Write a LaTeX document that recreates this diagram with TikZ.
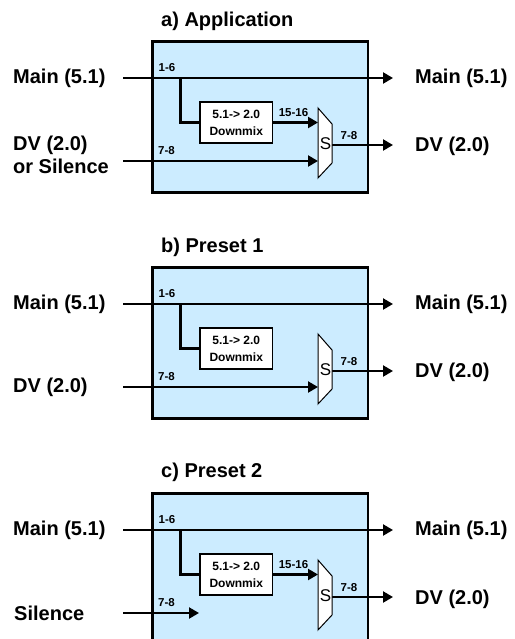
\documentclass[tikz,border=0pt]{standalone}
\usepackage{fontspec}
\setmainfont{Liberation Sans}
\usetikzlibrary{arrows.meta}
\definecolor{panelblue}{RGB}{204,236,255}
\begin{document}
\begin{tikzpicture}[x=1pt,y=-1pt,
  sig/.style={line width=2.2pt},
  sigarrow/.style={line width=2.2pt,-{Triangle[length=10pt,width=11pt]}},
  panel/.style={draw,line width=2.6pt,fill=panelblue,anchor=north west,inner sep=0pt,minimum width=215.5pt,minimum height=151pt},
  bigtxt/.style={font=\fontsize{20}{23}\selectfont\bfseries,inner sep=0pt,anchor=west},
  chtxt/.style={font=\fontsize{11.5}{13}\selectfont\bfseries,inner sep=0pt},
  dmx/.style={draw,line width=1.3pt,fill=white,align=center,font=\fontsize{12}{17}\selectfont\bfseries,minimum width=72.5pt,minimum height=41pt,inner sep=0pt},
  muxstyle/.style={draw,line width=1pt,fill=white},
  stxt/.style={font=\fontsize{17}{20}\selectfont,inner sep=0pt}]
\clip (0,0) rectangle (514,639);
\fill[white] (0,0) rectangle (514,639);

% ---------------- a) Application ----------------
\node[panel] (boxA) at (151,40) {};
\node[bigtxt] (titleA) at (161,21) {a) Application};
\node[bigtxt] (mainInA) at (13,78) {Main (5.1)};
\node[bigtxt] (mainOutA) at (415,78) {Main (5.1)};
\node[bigtxt,align=left] (dvInA) at (13,154.5) {DV (2.0)\\or Silence};
\node[bigtxt] (dvOutA) at (415,146) {DV (2.0)};
\coordinate (mainStartA) at (123,78);
\coordinate (mainEndA) at (393,78);
\coordinate (splitA) at (180.5,78);
\coordinate (dvStartA) at (123,161);
\coordinate (muxAin1) at (318,122.5);
\coordinate (muxAin2) at (318,161);
\coordinate (muxAout) at (332,145);
\coordinate (dvEndA) at (393,145);
\node[dmx] (dmxA) at (236.25,122.5) {5.1-> 2.0\\Downmix};
\draw[sigarrow] (mainStartA) -- (mainEndA);
\draw[sig] (splitA) |- (dmxA.west);
\draw[sigarrow] (dmxA.east) -- (muxAin1);
\draw[sigarrow] (dvStartA) -- (muxAin2);
\draw[sigarrow] (muxAout) -- (dvEndA);
\draw[muxstyle] (318,108) -- (332,124) -- (332,163) -- (318,178) -- cycle;
\node[stxt] (sA) at (325.5,144) {S};
\node[chtxt] (l16A) at (167,68) {1-6};
\node[chtxt] (l78inA) at (166.5,151) {7-8};
\node[chtxt] (l1516A) at (293.5,113) {15-16};
\node[chtxt] (l78outA) at (349,136) {7-8};

% ---------------- b) Preset 1 ----------------
\begin{scope}[yshift=-226pt]
\node[panel] (boxB) at (151,40) {};
\node[bigtxt] (titleB) at (161,21) {b) Preset 1};
\node[bigtxt] (mainInB) at (13,78) {Main (5.1)};
\node[bigtxt] (mainOutB) at (415,78) {Main (5.1)};
\node[bigtxt] (dvInB) at (13,161) {DV (2.0)};
\node[bigtxt] (dvOutB) at (415,146) {DV (2.0)};
\coordinate (mainStartB) at (123,78);
\coordinate (mainEndB) at (393,78);
\coordinate (splitB) at (180.5,78);
\coordinate (dvStartB) at (123,161);
\coordinate (muxBin2) at (318,161);
\coordinate (muxBout) at (332,145);
\coordinate (dvEndB) at (393,145);
\node[dmx] (dmxB) at (236.25,122.5) {5.1-> 2.0\\Downmix};
\draw[sigarrow] (mainStartB) -- (mainEndB);
\draw[sig] (splitB) |- (dmxB.west);
\draw[sigarrow] (dvStartB) -- (muxBin2);
\draw[sigarrow] (muxBout) -- (dvEndB);
\draw[muxstyle] (318,108) -- (332,124) -- (332,163) -- (318,178) -- cycle;
\node[stxt] (sB) at (325.5,144) {S};
\node[chtxt] (l16B) at (167,68) {1-6};
\node[chtxt] (l78inB) at (166.5,151) {7-8};
\node[chtxt] (l78outB) at (349,136) {7-8};
\end{scope}

% ---------------- c) Preset 2 ----------------
\begin{scope}[yshift=-452pt]
\node[panel] (boxC) at (151,40) {};
\node[bigtxt] (titleC) at (161,20) {c) Preset 2};
\node[bigtxt] (mainInC) at (13,78) {Main (5.1)};
\node[bigtxt] (mainOutC) at (415,78) {Main (5.1)};
\node[bigtxt] (silInC) at (14,161) {Silence};
\node[bigtxt] (dvOutC) at (415,147) {DV (2.0)};
\coordinate (mainStartC) at (123,78);
\coordinate (mainEndC) at (393,78);
\coordinate (splitC) at (180.5,78);
\coordinate (silStartC) at (123,161);
\coordinate (silEndC) at (199,161);
\coordinate (muxCin1) at (318,122.5);
\coordinate (muxCout) at (332,145);
\coordinate (dvEndC) at (393,145);
\node[dmx] (dmxC) at (236.25,122.5) {5.1-> 2.0\\Downmix};
\draw[sigarrow] (mainStartC) -- (mainEndC);
\draw[sig] (splitC) |- (dmxC.west);
\draw[sigarrow] (dmxC.east) -- (muxCin1);
\draw[sigarrow] (silStartC) -- (silEndC);
\draw[sigarrow] (muxCout) -- (dvEndC);
\draw[muxstyle] (318,108) -- (332,124) -- (332,163) -- (318,178) -- cycle;
\node[stxt] (sC) at (325.5,144) {S};
\node[chtxt] (l16C) at (167,68) {1-6};
\node[chtxt] (l78inC) at (166.5,151) {7-8};
\node[chtxt] (l1516C) at (293.5,113) {15-16};
\node[chtxt] (l78outC) at (349,136) {7-8};
\end{scope}
\end{tikzpicture}
\end{document}
